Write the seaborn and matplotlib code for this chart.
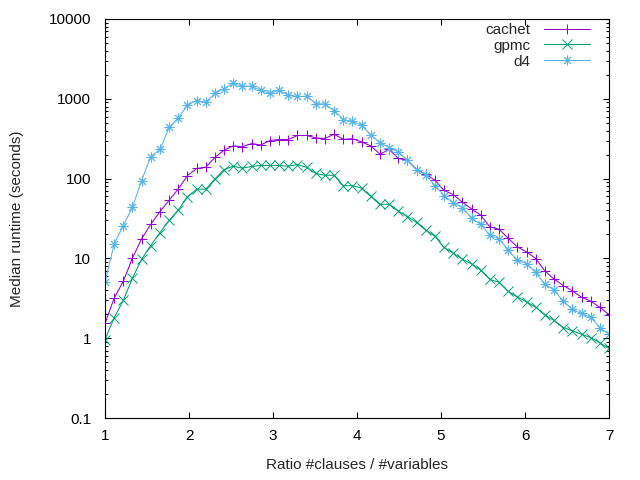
import numpy as np
import matplotlib
matplotlib.use("Agg")
import matplotlib.pyplot as plt
from matplotlib.ticker import FixedLocator, LogLocator, NullFormatter, FuncFormatter
import seaborn as sns

# ── data ──────────────────────────────────────────────────
ratio = [1.000, 1.109, 1.218, 1.327, 1.436, 1.545, 1.655, 1.764, 1.873, 1.982,
         2.091, 2.200, 2.309, 2.418, 2.527, 2.636, 2.745, 2.855, 2.964, 3.073,
         3.182, 3.291, 3.400, 3.509, 3.618, 3.727, 3.836, 3.945, 4.055, 4.164,
         4.273, 4.382, 4.491, 4.600, 4.709, 4.818, 4.927, 5.036, 5.145, 5.255,
         5.364, 5.473, 5.582, 5.691, 5.800, 5.909, 6.018, 6.127, 6.236, 6.345,
         6.455, 6.564, 6.673, 6.782, 6.891, 7.000]

cachet = [1.53, 3.17, 5.18, 10.1, 17.6, 26.8, 38.7, 53.6, 74.3, 109,
          134, 139, 185, 227, 257, 250, 275, 264, 300, 309,
          309, 347, 347, 324, 318, 360, 311, 316, 288, 257,
          202, 232, 179, 170, 130, 114, 95.5, 71, 63.2, 50.6,
          41.7, 34.8, 24.8, 23.2, 17.9, 13.9, 12.1, 9.96, 6.97, 5.53,
          4.57, 3.92, 3.26, 2.91, 2.44, 1.98]

gpmc = [0.96, 1.80, 2.99, 5.65, 9.77, 14.5, 21.1, 29.9, 40.5, 59.0,
        73.7, 73.7, 99.1, 130, 143, 135, 142, 146, 146, 146,
        143, 150, 138, 116, 110, 110, 81.5, 81.5, 75.8, 59.7,
        47.4, 47.8, 39.4, 33.5, 28.2, 22.6, 19.0, 13.7, 11.7, 9.77,
        8.53, 7.11, 5.44, 5.03, 3.85, 3.29, 2.85, 2.45, 1.96, 1.67,
        1.36, 1.24, 1.12, 1.02, 0.873, 0.743]

d4 = [4.99, 15.2, 25.8, 43.8, 94.6, 189, 232, 441, 576, 832,
      952, 899, 1175, 1346, 1555, 1439, 1439, 1271, 1175, 1282,
      1109, 1069, 1079, 873, 856, 713, 550, 520, 467, 350,
      283, 245, 216, 170, 130, 112, 81.9, 61.4, 49.6, 43.4,
      31.9, 26.6, 19.4, 17.6, 12.7, 9.42, 8.63, 6.66, 4.75, 4.03,
      2.91, 2.29, 2.04, 1.82, 1.36, 1.12]

x_ticks = [1, 2, 3, 4, 5, 6, 7]
y_ticks = [0.1, 1, 10, 100, 1000, 10000]

# ── style ─────────────────────────────────────────────────
sns.set_style("ticks")
plt.rcParams['font.family'] = ['Liberation Sans', 'DejaVu Sans']
plt.rcParams['font.size'] = 11

fig = plt.figure(figsize=(6.4, 4.8), dpi=100)
ax = fig.add_axes([105 / 640, 1 - 418 / 480, 504 / 640, 399 / 480])

series = [
    ("cachet", cachet, "#9400d3", "+"),
    ("gpmc", gpmc, "#009e73", "x"),
    ("d4", d4, "#56b4e9", (8, 2, 0)),
]
for name, vals, col, mk in series:
    sns.lineplot(x=ratio, y=vals, ax=ax, color=col, marker=mk, markersize=7,
                 markeredgewidth=0.7, markeredgecolor=col, linewidth=0.75,
                 label=name)

ax.set_yscale("log")
ax.set_xlim(1, 7)
ax.set_ylim(0.1, 10000)
ax.xaxis.set_major_locator(FixedLocator(x_ticks))
ax.yaxis.set_major_locator(FixedLocator(y_ticks))
ax.yaxis.set_major_formatter(FuncFormatter(lambda v, p: f"{v:g}"))
ax.yaxis.set_minor_locator(LogLocator(base=10, subs=np.arange(2, 10)))
ax.yaxis.set_minor_formatter(NullFormatter())

for s in ax.spines.values():
    s.set_visible(True)
    s.set_linewidth(0.8)
    s.set_color("black")
ax.tick_params(which="both", direction="in", top=True, right=True,
               colors="black", width=0.8, labelsize=11)
ax.tick_params(which="major", length=4.5)
ax.tick_params(which="minor", length=2.2)
ax.tick_params(axis="y", which="major", pad=10)
ax.tick_params(axis="x", which="major", pad=8)

ax.set_xlabel("Ratio #clauses / #variables", fontsize=11)
ax.set_ylabel("Median runtime (seconds)", fontsize=11)
ax.xaxis.set_label_coords(0.5, -0.1)
ax.yaxis.set_label_coords(-0.16, 0.5)

leg = ax.legend(loc="upper right", bbox_to_anchor=(0.962, 0.99), frameon=False,
                markerfirst=False, handlelength=3.0, handletextpad=0.9,
                labelspacing=0.12, borderpad=0, borderaxespad=0, fontsize=11)

fig.savefig("out.png", dpi=100)
